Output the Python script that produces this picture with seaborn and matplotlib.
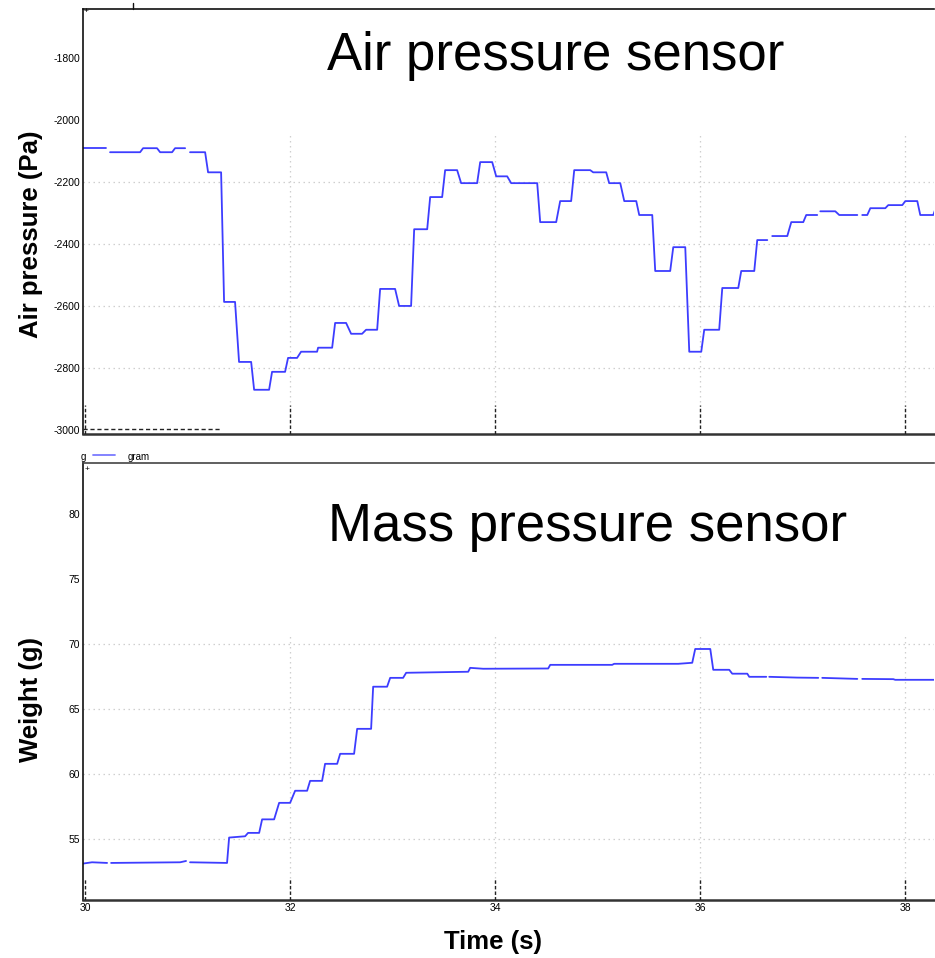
import numpy as np
import pandas as pd
import matplotlib
matplotlib.use("Agg")
import matplotlib.pyplot as plt
import matplotlib.transforms as mtransforms
from matplotlib.lines import Line2D
import seaborn as sns

# ---- data: air pressure (Pa) over time (s); None marks a dropout in the trace
air_time = [29.98, 30.205, None, 30.244, 30.537, 30.566, 30.702, 30.732, 30.849, 30.878, 30.976, None,
            31.024, 31.171, 31.20, 31.327, 31.356, 31.463, 31.502, 31.620, 31.649, 31.795, 31.824,
            31.951, 31.980, 32.068, 32.107, 32.263, 32.273, 32.41, 32.439, 32.546, 32.595, 32.702,
            32.741, 32.849, 32.878, 33.024, 33.063, 33.18, 33.21, 33.337, 33.366, 33.483, 33.512,
            33.629, 33.668, 33.824, 33.854, 33.971, 34.01, 34.117, 34.156, 34.41, 34.439, 34.595,
            34.634, 34.741, 34.771, 34.927, 34.956, 35.083, 35.112, 35.22, 35.259, 35.376, 35.405,
            35.532, 35.561, 35.707, 35.737, 35.854, 35.893, 36.01, 36.039, 36.185, 36.215, 36.371,
            36.40, 36.527, 36.556, 36.654, None, 36.702, 36.849, 36.888, 37.005, 37.034, 37.141, None,
            37.171, 37.317, 37.356, 37.532, None, 37.58, 37.629, 37.659, 37.805, 37.834, 37.971,
            38.0, 38.117, 38.146, 38.273, 38.29]
air_pa = [-2090, -2090, None, -2103, -2103, -2090, -2090, -2103, -2103, -2090, -2090, None,
          -2103, -2103, -2168, -2168, -2587, -2587, -2781, -2781, -2871, -2871, -2813,
          -2813, -2768, -2768, -2748, -2748, -2735, -2735, -2655, -2655, -2690, -2690,
          -2677, -2677, -2545, -2545, -2600, -2600, -2352, -2352, -2248, -2248, -2161,
          -2161, -2203, -2203, -2135, -2135, -2181, -2181, -2203, -2203, -2329, -2329,
          -2261, -2261, -2161, -2161, -2168, -2168, -2203, -2203, -2261, -2261, -2306,
          -2306, -2487, -2487, -2410, -2410, -2748, -2748, -2677, -2677, -2542, -2542,
          -2487, -2487, -2387, -2387, None, -2374, -2374, -2329, -2329, -2306, -2306, None,
          -2294, -2294, -2306, -2306, None, -2306, -2306, -2284, -2284, -2274, -2274,
          -2261, -2261, -2306, -2306, -2290]

# ---- data: weight (g) over time (s)
mass_time = [29.98, 30.068, 30.215, None, 30.254, 30.927, 30.985, None, 31.024, 31.385, 31.405,
             31.561, 31.59, 31.698, 31.727, 31.844, 31.893, 32.0, 32.049, 32.166, 32.195, 32.312,
             32.341, 32.459, 32.488, 32.624, 32.654, 32.79, 32.81, 32.946, 32.976, 33.102, 33.132,
             33.737, 33.756, 33.883, 34.517, 34.537, 35.141, 35.161, 35.785, 35.922, 35.951,
             36.098, 36.127, 36.283, 36.312, 36.459, 36.478, 36.644, None, 36.673, 36.946, 37.151,
             None, 37.19, 37.532, None, 37.58, 37.883, 37.902, 38.29]
mass_g = [53.1, 53.2, 53.15, None, 53.15, 53.2, 53.3, None, 53.2, 53.15, 55.1,
          55.2, 55.46, 55.46, 56.5, 56.5, 57.77, 57.77, 58.7, 58.7, 59.46, 59.46,
          60.77, 60.77, 61.54, 61.54, 63.46, 63.46, 66.7, 66.7, 67.38, 67.38, 67.77,
          67.85, 68.15, 68.08, 68.1, 68.38, 68.38, 68.46, 68.46, 68.54, 69.6,
          69.6, 68.0, 68.0, 67.7, 67.7, 67.46, 67.46, None, 67.46, 67.4, 67.38,
          None, 67.38, 67.3, None, 67.3, 67.28, 67.23, 67.23]

time_ticks = [30, 32, 34, 36, 38]
air_ticks = [-3000, -2800, -2600, -2400, -2200, -2000, -1800]
air_grid = [-2800, -2600, -2400, -2200]
mass_ticks = [55, 60, 65, 70, 75, 80]
mass_grid = [55, 60, 65, 70]

LINE = "#3d3dff"


def segments(xs, ys):
    """Split a trace into continuous pieces at the None dropouts."""
    rows, seg = [], 0
    for x, y in zip(xs, ys):
        if x is None:
            seg += 1
            continue
        rows.append((x, y, seg))
    return pd.DataFrame(rows, columns=["t", "v", "seg"])


sns.set_style("white")
plt.rcParams["font.family"] = ["Liberation Sans", "DejaVu Sans"]
plt.rcParams["text.color"] = "black"
tick_font = ["Liberation Sans Narrow", "Liberation Sans", "DejaVu Sans"]

W, H = 935, 958
fig = plt.figure(figsize=(W / 100, H / 100), dpi=100)


def fx(px):
    return px / W


def fy(py):
    return 1 - py / H


ax1 = fig.add_axes([fx(83), fy(434), fx(934) - fx(83), fy(9) - fy(434)])
ax2 = fig.add_axes([fx(83), fy(900), fx(934) - fx(83), fy(463) - fy(900)])

xlim = (29.98, 38.28)

# ---- upper panel: air pressure
ax1.set_xlim(*xlim)
ax1.set_ylim(-3014, -1640)
df_air = segments(air_time, air_pa)
sns.lineplot(data=df_air, x="t", y="v", units="seg", estimator=None, sort=False,
             color=LINE, lw=1.3, ax=ax1)

# ---- lower panel: weight
ax2.set_xlim(*xlim)
ax2.set_ylim(50.3, 83.9)
df_mass = segments(mass_time, mass_g)
sns.lineplot(data=df_mass, x="t", y="v", units="seg", estimator=None, sort=False,
             color=LINE, lw=1.3, ax=ax2)

grid_kw = dict(color="#cfcfcf", lw=0.9, linestyle=(0, (1.2, 2.8)), zorder=0)
for ax, grid_vals, g_lo, g_hi in [(ax1, air_grid, -2910, -2045), (ax2, mass_grid, 51.6, 70.7)]:
    ax.hlines(grid_vals, xlim[0], xlim[1], **grid_kw)
    ax.vlines(time_ticks[1:], g_lo, g_hi, **grid_kw)

# dashed tick stubs rising from the time axis
for ax, frac in [(ax1, 29 / 425), (ax2, 21 / 437)]:
    trans = mtransforms.blended_transform_factory(ax.transData, ax.transAxes)
    ax.vlines(time_ticks, 0, frac, transform=trans, color="#222222", lw=1.0,
              linestyle=(0, (2.5, 1.5)), zorder=3)
ax1.plot([0, 0.161], [0.012, 0.012], transform=ax1.transAxes, color="#222222",
         lw=1.0, linestyle=(0, (3, 2)), zorder=3)

for ax in (ax1, ax2):
    ax.set_xticks(time_ticks)
    ax.tick_params(axis="both", direction="in", length=2, width=0.8, pad=2,
                   labelsize=7.5, colors="black")
    ax.spines["right"].set_visible(False)
    ax.spines["left"].set_color("#111111")
    ax.spines["left"].set_linewidth(1.2)
    ax.spines["bottom"].set_color("#333333")
    ax.spines["bottom"].set_linewidth(1.8)
    ax.spines["top"].set_linewidth(1.2)
    ax.set_xlabel("")
    ax.set_ylabel("")

ax1.spines["top"].set_color("#111111")
ax2.spines["top"].set_color("#444444")
ax1.set_yticks(air_ticks)
ax1.set_yticklabels([str(v) for v in air_ticks], family=tick_font)
ax1.tick_params(axis="x", labelbottom=False)
ax2.set_yticks(mass_ticks)
ax2.set_yticklabels([str(v) for v in mass_ticks], family=tick_font)
ax2.set_xticklabels([str(v) for v in time_ticks], family=tick_font)

# panel headings
fig.text(fx(556), fy(70), "Air pressure sensor", fontsize=38, ha="center", va="baseline",
         color="black")
fig.text(fx(588), fy(541), "Mass pressure sensor", fontsize=38, ha="center", va="baseline",
         color="black")

# axis titles
fig.text(fx(31), fy(234), "Air pressure (Pa)", fontsize=18.5, fontweight="bold",
         rotation=90, ha="center", va="center", color="black")
fig.text(fx(31), fy(700), "Weight (g)", fontsize=18.5, fontweight="bold",
         rotation=90, ha="center", va="center", color="black")
fig.text(fx(493), fy(942), "Time (s)", fontsize=18.5, fontweight="bold",
         ha="center", va="center", color="black")

# channel key between the panels
fig.text(fx(81), fy(457), "g", fontsize=7, ha="left", va="center", family=tick_font)
fig.add_artist(Line2D([fx(93), fx(115)], [fy(455), fy(455)], color="#7a7aff", lw=1.3))
fig.text(fx(128), fy(457), "gram", fontsize=7, ha="left", va="center", family=tick_font)

# small corner markers
fig.text(fx(86), fy(12), "+", fontsize=6, ha="center", va="center")
fig.text(fx(87), fy(469), "+", fontsize=6, ha="center", va="center")
fig.add_artist(Line2D([fx(133), fx(133)], [fy(3), fy(9)], color="#111111", lw=1.0))

fig.savefig("out.png", dpi=100, facecolor="white")
